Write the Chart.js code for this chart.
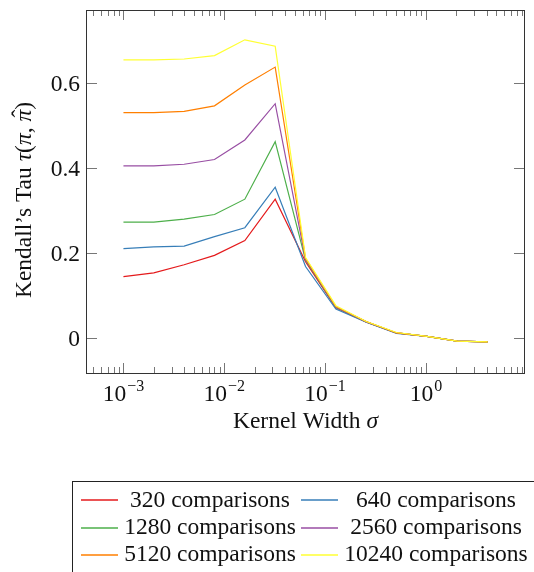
<!DOCTYPE html>
<html>
<head>
<meta charset="utf-8">
<script src="https://cdn.jsdelivr.net/npm/chart.js@4/dist/chart.umd.min.js"></script>
<style>
  html, body { margin: 0; padding: 0; background: #fff; }
  #wrap { width: 534px; height: 572px; }
</style>
</head>
<body>
<div id="wrap"><canvas id="kendall" width="534" height="572"></canvas></div>
<script>
// kernel widths (x) and Kendall's tau per comparison budget
const sigma = [0.001, 0.002, 0.004, 0.008, 0.016, 0.032, 0.064, 0.128, 0.256, 0.512, 1.024, 2.048, 4.096];
const tau320   = [0.145, 0.154, 0.173, 0.195, 0.230, 0.327, 0.180, 0.072, 0.039, 0.013, 0.005, -0.006, -0.008];
const tau640   = [0.211, 0.215, 0.217, 0.239, 0.260, 0.355, 0.169, 0.069, 0.038, 0.012, 0.005, -0.006, -0.008];
const tau1280  = [0.273, 0.273, 0.280, 0.291, 0.327, 0.462, 0.184, 0.073, 0.039, 0.013, 0.005, -0.006, -0.008];
const tau2560  = [0.405, 0.405, 0.409, 0.420, 0.466, 0.551, 0.186, 0.074, 0.039, 0.013, 0.005, -0.006, -0.008];
const tau5120  = [0.530, 0.530, 0.533, 0.546, 0.595, 0.637, 0.188, 0.075, 0.040, 0.013, 0.005, -0.006, -0.008];
const tau10240 = [0.654, 0.654, 0.656, 0.664, 0.701, 0.686, 0.190, 0.077, 0.040, 0.014, 0.005, -0.006, -0.008];

const seriesLabels = ["320 comparisons", "640 comparisons", "1280 comparisons",
                      "2560 comparisons", "5120 comparisons", "10240 comparisons"];
const seriesData = [tau320, tau640, tau1280, tau2560, tau5120, tau10240];
const seriesColors = ["#e41a1c", "#377eb8", "#4daf4a", "#984ea3", "#ff7f00", "#ffff33"];

const xMajor = [1e-3, 1e-2, 1e-1, 1];
const xMajorExp = ["\u22123", "\u22122", "\u22121", "0"];
const yTicks = [0, 0.2, 0.4, 0.6];

const FONT = '"Liberation Serif", "Times New Roman", serif';
const FS = 23.5;

// minor ticks on the log axis: 2..9 times every decade, inside the axis range
function minorTicks(min, max) {
  const out = [];
  for (let e = -4; e <= 1; e++) {
    for (let m = 2; m <= 9; m++) {
      const v = m * Math.pow(10, e);
      if (v > min && v < max) out.push(v);
    }
  }
  return out;
}

function drawParts(ctx, parts, x, baseY) {
  ctx.textAlign = "left";
  ctx.textBaseline = "alphabetic";
  parts.forEach(p => {
    ctx.font = p[1];
    const w = ctx.measureText(p[0]).width;
    ctx.fillText(p[0], x, baseY);
    if (p[2]) {
      // hat accent over the glyph
      ctx.font = FS + "px " + FONT;
      ctx.textAlign = "center";
      ctx.fillText("\u02c6", x + w / 2 + 2, baseY - 3);
      ctx.textAlign = "left";
    }
    x += w;
  });
  return x;
}

function partsWidth(ctx, parts) {
  let total = 0;
  parts.forEach(p => { ctx.font = p[1]; total += ctx.measureText(p[0]).width; });
  return total;
}

// pgfplots style frame, inward ticks, labels, titles and legend
const axisDecor = {
  id: 'axisDecor',
  afterDraw(chart) {
    const ctx = chart.ctx;
    const a = chart.chartArea;
    const xs = chart.scales.x, ys = chart.scales.y;
    const roman = FS + "px " + FONT, italic = "italic " + FS + "px " + FONT;
    ctx.save();

    // ticks
    ctx.strokeStyle = "#777";
    ctx.lineWidth = 1;
    ctx.beginPath();
    xMajor.forEach(v => {
      const px = Math.round(xs.getPixelForValue(v)) + 0.5;
      ctx.moveTo(px, a.bottom); ctx.lineTo(px, a.bottom - 10);
      ctx.moveTo(px, a.top); ctx.lineTo(px, a.top + 10);
    });
    minorTicks(xs.min, xs.max).forEach(v => {
      const px = Math.round(xs.getPixelForValue(v)) + 0.5;
      ctx.moveTo(px, a.bottom); ctx.lineTo(px, a.bottom - 6);
      ctx.moveTo(px, a.top); ctx.lineTo(px, a.top + 6);
    });
    yTicks.forEach(v => {
      const py = Math.round(ys.getPixelForValue(v)) + 0.5;
      ctx.moveTo(a.left, py); ctx.lineTo(a.left + 10, py);
      ctx.moveTo(a.right, py); ctx.lineTo(a.right - 10, py);
    });
    ctx.stroke();

    // frame
    ctx.strokeStyle = "#333";
    ctx.strokeRect(Math.round(a.left) - 0.5, Math.round(a.top) + 0.5,
                   Math.round(a.right - a.left) + 1, Math.round(a.bottom - a.top));

    ctx.fillStyle = "#111";

    // y tick labels
    ctx.font = roman;
    ctx.textAlign = "right";
    ctx.textBaseline = "alphabetic";
    yTicks.forEach(v => {
      const py = ys.getPixelForValue(v);
      ctx.fillText(v === 0 ? "0" : v.toFixed(1), a.left - 7, py + 8);
    });

    // x tick labels 10^k
    ctx.textAlign = "left";
    xMajor.forEach((v, i) => {
      const px = xs.getPixelForValue(v);
      ctx.font = roman;
      const w1 = ctx.measureText("10").width;
      ctx.font = "16px " + FONT;
      const w2 = ctx.measureText(xMajorExp[i]).width;
      const x0 = px - (w1 + w2 + 1) / 2;
      ctx.font = roman;
      ctx.fillText("10", x0, a.bottom + 28);
      ctx.font = "16px " + FONT;
      ctx.fillText(xMajorExp[i], x0 + w1 + 1, a.bottom + 18);
    });

    // x axis title
    const xParts = [["Kernel Width ", roman], ["\u03c3", italic]];
    drawParts(ctx, xParts, (a.left + a.right) / 2 - partsWidth(ctx, xParts) / 2, 428);

    // y axis title (rotated)
    ctx.save();
    ctx.translate(31, 200);
    ctx.rotate(-Math.PI / 2);
    const yParts = [["Kendall\u2019s Tau ", roman], ["\u03c4", italic], ["(", roman],
                    ["\u03c0", italic], [", ", roman], ["\u03c0", italic, true], [")", roman]];
    drawParts(ctx, yParts, -partsWidth(ctx, yParts) / 2, 0);
    ctx.restore();

    // legend box, two columns by three rows
    ctx.strokeStyle = "#222";
    ctx.lineWidth = 1;
    ctx.strokeRect(72.5, 481.5, 480, 120);
    ctx.font = roman;
    ctx.textAlign = "center";
    const colLine = [81, 301], colText = [210, 436];
    const rowLine = [500, 528, 555], rowBase = [507, 534, 561];
    chart.data.datasets.forEach((ds, i) => {
      const c = i % 2, r = Math.floor(i / 2);
      ctx.strokeStyle = ds.borderColor;
      ctx.lineWidth = 1.3;
      ctx.beginPath();
      ctx.moveTo(colLine[c], rowLine[r]);
      ctx.lineTo(colLine[c] + 37, rowLine[r]);
      ctx.stroke();
      ctx.fillStyle = "#111";
      ctx.fillText(ds.label, colText[c], rowBase[r]);
    });

    ctx.restore();
  }
};

const kendallChart = new Chart(document.getElementById("kendall"), {
  type: 'line',
  data: {
    datasets: seriesData.map((vals, i) => ({
      label: seriesLabels[i],
      data: sigma.map((s, j) => ({ x: s, y: vals[j] })),
      borderColor: seriesColors[i],
      backgroundColor: seriesColors[i],
      borderWidth: 1.2,
      pointRadius: 0,
      tension: 0,
      fill: false,
      order: 5 - i   // yellow drawn on top
    }))
  },
  options: {
    responsive: false,
    animation: false,
    layout: { padding: { top: 10, right: 10, bottom: 140, left: 0 } },
    plugins: {
      legend: { display: false },
      tooltip: { enabled: false }
    },
    scales: {
      x: {
        type: 'logarithmic',
        min: 4.35e-4,
        max: 9.4,
        grid: { display: false },
        border: { display: false },
        ticks: { display: false },
        afterBuildTicks(scale) { scale.ticks = xMajor.map(v => ({ value: v })); },
        afterFit(scale) { scale.height = 59; }
      },
      y: {
        min: -0.081,
        max: 0.771,
        grid: { display: false },
        border: { display: false },
        ticks: { display: false },
        afterBuildTicks(scale) { scale.ticks = yTicks.map(v => ({ value: v })); },
        afterFit(scale) { scale.width = 87; }
      }
    }
  },
  plugins: [axisDecor]
});
</script>
</body>
</html>
